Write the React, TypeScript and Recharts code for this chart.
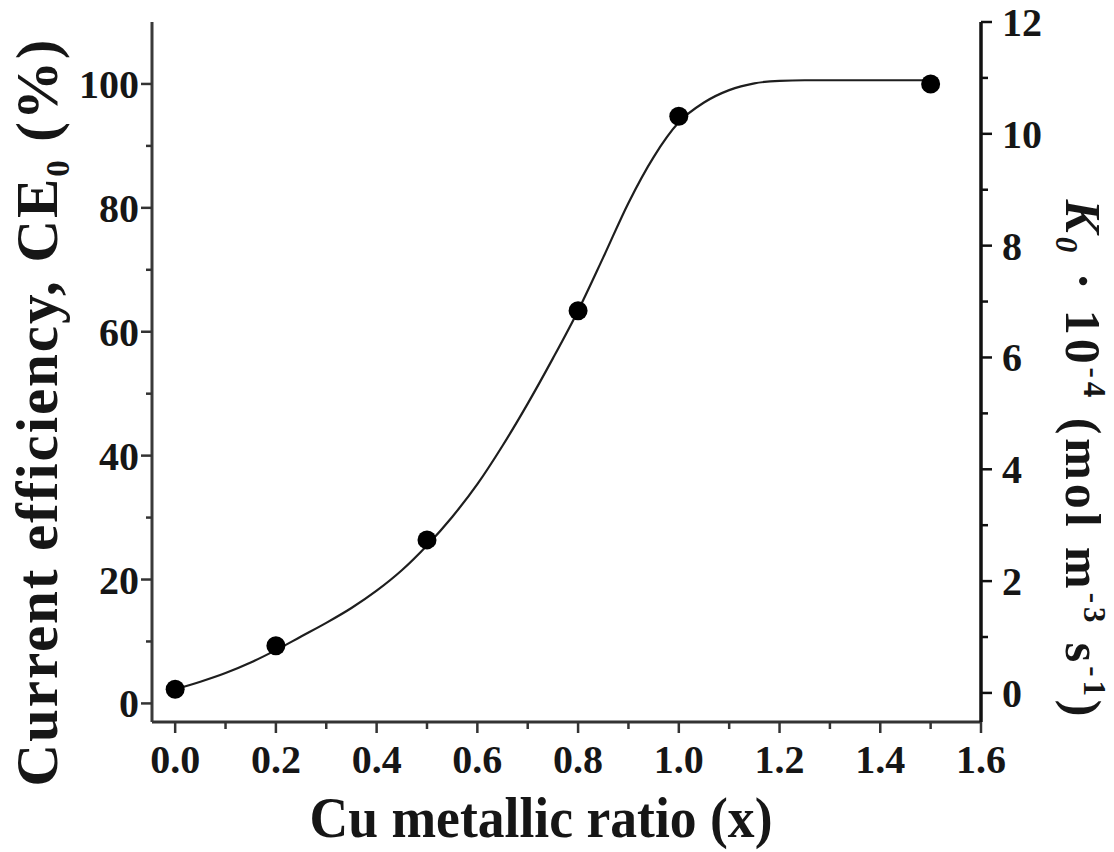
import { ComposedChart, Line, Scatter, XAxis, YAxis } from 'recharts'

// measured points: Cu metallic ratio vs CE0 (%)
const RATIO = [0, 0.2, 0.5, 0.8, 1.0, 1.5]
const CE0 = [2.3, 9.3, 26.4, 63.4, 94.8, 100.0]

// fitted curve
const FIT_X = [0, 0.05, 0.1, 0.15, 0.2, 0.25, 0.3, 0.35, 0.4, 0.45, 0.5, 0.55, 0.6, 0.65, 0.7, 0.75, 0.8, 0.85, 0.9, 0.95, 1.0, 1.05, 1.1, 1.15, 1.2, 1.25, 1.3, 1.35, 1.4, 1.45, 1.5]
const FIT_CE = [2.3, 3.5, 4.9, 6.6, 8.6, 10.8, 13.0, 15.4, 18.2, 21.5, 25.5, 30.1, 35.4, 41.6, 48.4, 55.7, 63.4, 72.0, 80.8, 88.2, 93.8, 97.0, 99.0, 100.1, 100.5, 100.6, 100.6, 100.6, 100.6, 100.6, 100.6]

const X_TICKS = [0, 0.1, 0.2, 0.3, 0.4, 0.5, 0.6, 0.7, 0.8, 0.9, 1.0, 1.1, 1.2, 1.3, 1.4, 1.5, 1.6]
const LEFT_TICKS = [0, 10, 20, 30, 40, 50, 60, 70, 80, 90, 100]
const RIGHT_TICKS = [0, 1, 2, 3, 4, 5, 6, 7, 8, 9, 10, 11, 12]

const FONT = '"Liberation Serif", "Times New Roman", serif'
const INK = '#161616'
const AXIS = '#333'

const points = RATIO.map((x, i) => ({ x, ce: CE0[i] }))
const fit = FIT_X.map((x, i) => ({ x, ce: FIT_CE[i] }))

const tickText = { fontFamily: FONT, fontWeight: 700, fontSize: 40, fill: INK }

const XTick = (p: any) => {
  const v = p.payload.value
  const major = Math.round(v * 10) % 2 === 0
  return (
    <g>
      <line x1={p.x} x2={p.x} y1={p.y} y2={p.y + (major ? 11 : 7)} stroke={AXIS} strokeWidth={2.5} />
      {major && (
        <text x={p.x} y={p.y + 51} textAnchor="middle" {...tickText}>{v.toFixed(1)}</text>
      )}
    </g>
  )
}

const LeftTick = (p: any) => {
  const v = p.payload.value
  const major = v % 20 === 0
  return (
    <g>
      <line x1={p.x} x2={p.x - (major ? 11 : 6)} y1={p.y} y2={p.y} stroke={AXIS} strokeWidth={2.5} />
      {major && (
        <text x={p.x - 13} y={p.y} dy="0.35em" textAnchor="end" {...tickText}>{v}</text>
      )}
    </g>
  )
}

const RightTick = (p: any) => {
  const v = p.payload.value
  const major = v % 2 === 0
  return (
    <g>
      <line x1={p.x} x2={p.x + (major ? 11 : 7)} y1={p.y} y2={p.y} stroke="#111" strokeWidth={2.5} />
      {major && (
        <text x={p.x + 21} y={p.y} dy="0.35em" textAnchor="start" {...tickText}>{v}</text>
      )}
    </g>
  )
}

const titleText = { fontFamily: FONT, fontWeight: 700, fill: INK }

const XTitle = () => (
  <text x={541} y={837} textAnchor="middle" fontSize={57} textLength={463} lengthAdjust="spacingAndGlyphs" {...titleText}>
    Cu metallic ratio (x)
  </text>
)

const LeftTitle = () => (
  <text x={57} y={413} transform="rotate(-90 57 413)" textAnchor="middle" fontSize={59} textLength={747} lengthAdjust="spacing" {...titleText}>
    Current efficiency, CE<tspan dy={12} fontSize={33}>0</tspan><tspan dy={-12}> (%)</tspan>
  </text>
)

const RightTitle = () => (
  <text x={1066} y={458} transform="rotate(90 1066 458)" textAnchor="middle" fontSize={50} textLength={517} lengthAdjust="spacing" {...titleText}>
    <tspan fontStyle="italic">K</tspan>
    <tspan fontStyle="italic" dy={10} fontSize={31}>0</tspan>
    <tspan dy={-10}> · 10</tspan>
    <tspan dy={-18} fontSize={31}>-4</tspan>
    <tspan dy={18}> (mol m</tspan>
    <tspan dy={-18} fontSize={31}>-3</tspan>
    <tspan dy={18}> s</tspan>
    <tspan dy={-18} fontSize={31}>-1</tspan>
    <tspan dy={18}>)</tspan>
  </text>
)

export default function App() {
  return (
    <div style={{ position: 'absolute', left: 0, top: 0, width: 1114, height: 852, background: '#fff' }}>
      <ComposedChart width={1114} height={852} margin={{ top: 22, right: 73, bottom: 90, left: 92 }}>
        <XAxis
          xAxisId="bottom"
          dataKey="x"
          type="number"
          domain={[-0.046, 1.6]}
          ticks={X_TICKS}
          interval={0}
          allowDataOverflow
          height={40}
          axisLine={{ stroke: AXIS, strokeWidth: 3 }}
          tickLine={false}
          tickSize={0}
          tickMargin={0}
          tick={<XTick />}
          label={<XTitle />}
        />
        <XAxis
          xAxisId="top"
          orientation="top"
          dataKey="x"
          type="number"
          domain={[-0.046, 1.6]}
          height={0}
          tick={false}
          tickLine={false}
          axisLine={{ stroke: '#444', strokeWidth: 3 }}
        />
        <YAxis
          yAxisId="left"
          type="number"
          domain={[-3, 110]}
          ticks={LEFT_TICKS}
          interval={0}
          allowDataOverflow
          width={60}
          axisLine={{ stroke: '#3a3a3a', strokeWidth: 3 }}
          tickLine={false}
          tickSize={0}
          tickMargin={0}
          tick={<LeftTick />}
          label={<LeftTitle />}
        />
        <YAxis
          yAxisId="right"
          orientation="right"
          type="number"
          domain={[-0.52, 12]}
          ticks={RIGHT_TICKS}
          interval={0}
          allowDataOverflow
          width={60}
          axisLine={{ stroke: '#111', strokeWidth: 3.5 }}
          tickLine={false}
          tickSize={0}
          tickMargin={0}
          tick={<RightTick />}
          label={<RightTitle />}
        />
        <Line
          xAxisId="bottom"
          yAxisId="left"
          data={fit}
          dataKey="ce"
          type="monotone"
          stroke="#1e1e1e"
          strokeWidth={2.2}
          dot={false}
          activeDot={false}
          isAnimationActive={false}
        />
        <Scatter
          xAxisId="bottom"
          yAxisId="left"
          data={points}
          dataKey="ce"
          fill="#000"
          shape={(p: any) => <circle cx={p.cx} cy={p.cy} r={9.5} fill="#000" />}
          isAnimationActive={false}
        />
      </ComposedChart>
    </div>
  )
}
